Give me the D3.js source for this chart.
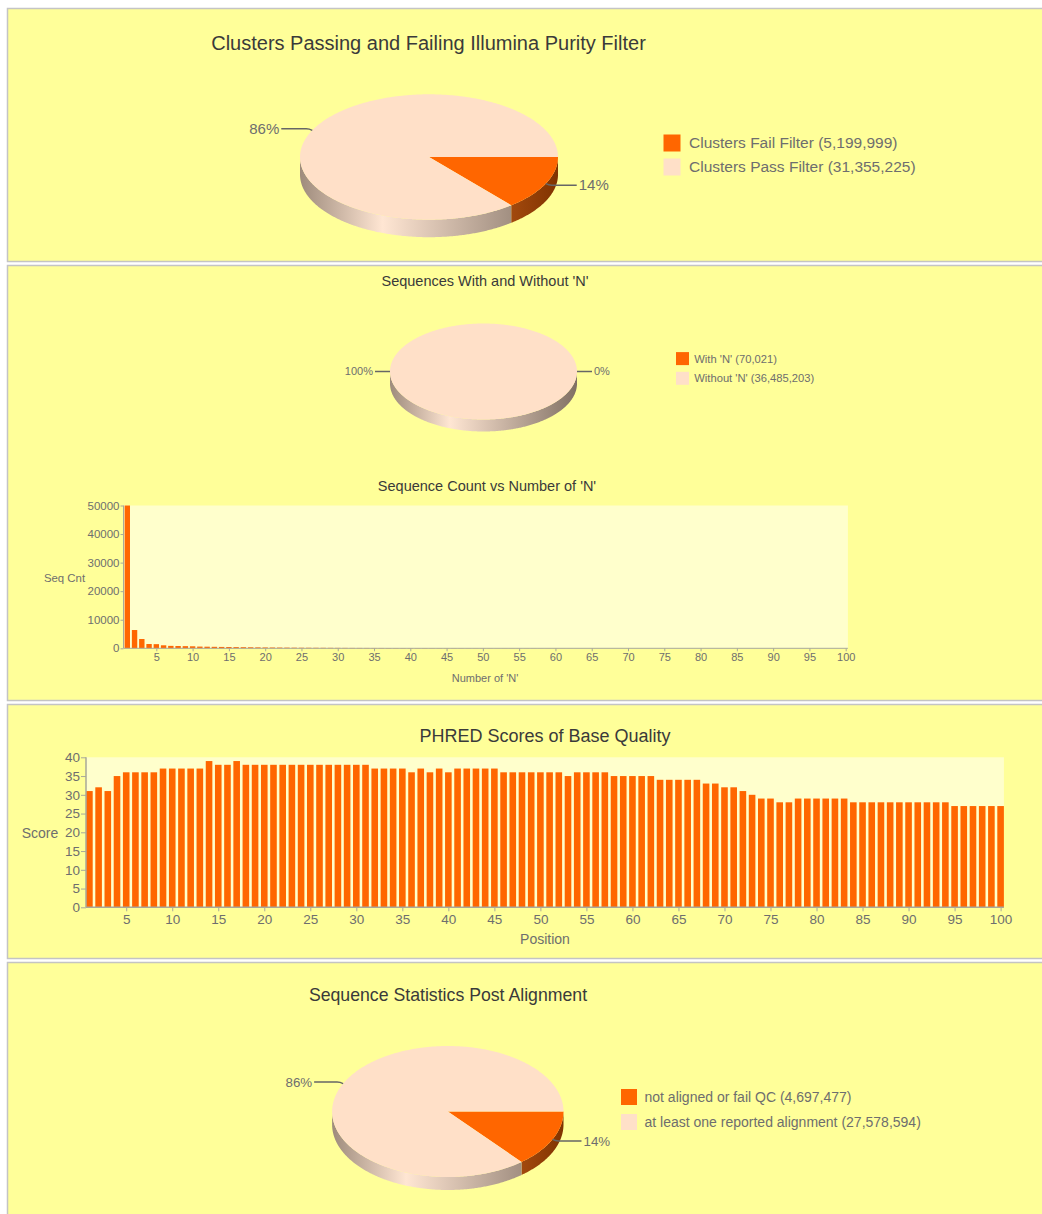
<!DOCTYPE html>
<html>
<head>
<meta charset="utf-8">
<title>Sequencing QC Summary</title>
<script src="https://cdn.jsdelivr.net/npm/d3@7"></script>
<style>
  body { margin: 0; background: #ffffff; }
  svg { display: block; font-family: "Liberation Sans", Arial, Helvetica, sans-serif; }
</style>
</head>
<body>
<svg id="report" width="1042" height="1214"></svg>
<script>
// ---------- data ----------
const purityLabels = ["Clusters Fail Filter", "Clusters Pass Filter"];
const purityCounts = [5199999, 31355225];
const purityPercents = [14, 86];

const nLabels = ["With 'N'", "Without 'N'"];
const nCounts = [70021, 36485203];
const nPercents = [0, 100];

const alignLabels = ["not aligned or fail QC", "at least one reported alignment"];
const alignCounts = [4697477, 27578594];
const alignPercents = [14, 86];

// sequence count by number of 'N' in the read (1..100)
const nCountByN = [
  50000, 6400, 3250, 1500, 1450, 1050, 850, 800, 750, 700,
  600, 560, 520, 480, 450, 420, 390, 360, 330, 300,
  280, 260, 240, 220, 200, 190, 180, 170, 160, 150,
  140, 130, 125, 120, 115, 110, 105, 100, 95, 90,
  85, 80, 75, 70, 65, 60, 55, 50, 48, 46,
  44, 42, 40, 38, 36, 34, 32, 30, 28, 26,
  20, 15, 10, 8, 6, 5, 4, 3, 2, 2,
  1, 1, 1, 0, 0, 0, 0, 0, 0, 0,
  0, 0, 0, 0, 0, 0, 0, 0, 0, 0,
  0, 0, 0, 0, 0, 0, 0, 0, 0, 0
];
const nHistXTicks = [5, 10, 15, 20, 25, 30, 35, 40, 45, 50, 55, 60, 65, 70, 75, 80, 85, 90, 95, 100];
const nHistYTicks = [0, 10000, 20000, 30000, 40000, 50000];

// mean PHRED score per read position (1..100)
const phredScores = [
  31, 32, 31, 35, 36, 36, 36, 36, 37, 37,
  37, 37, 37, 39, 38, 38, 39, 38, 38, 38,
  38, 38, 38, 38, 38, 38, 38, 38, 38, 38,
  38, 37, 37, 37, 37, 36, 37, 36, 37, 36,
  37, 37, 37, 37, 37, 36, 36, 36, 36, 36,
  36, 36, 35, 36, 36, 36, 36, 35, 35, 35,
  35, 35, 34, 34, 34, 34, 34, 33, 33, 32,
  32, 31, 30, 29, 29, 28, 28, 29, 29, 29,
  29, 29, 29, 28, 28, 28, 28, 28, 28, 28,
  28, 28, 28, 28, 27, 27, 27, 27, 27, 27
];
const phredXTicks = [5, 10, 15, 20, 25, 30, 35, 40, 45, 50, 55, 60, 65, 70, 75, 80, 85, 90, 95, 100];
const phredYTicks = [0, 5, 10, 15, 20, 25, 30, 35, 40];

// ---------- styling ----------
const PANEL_BG = "#ffff99";
const PANEL_BORDER = "#c4c4c4";
const PLOT_BG = "#ffffcc";
const BAR = "#ff6600";
const SLICE_COLORS = ["#ff6600", "#ffe0c8"];
const TITLE_COLOR = "#3a3a3a";
const TEXT_COLOR = "#6e6e6e";
const AXIS_COLOR = "#a8a89a";

const svg = d3.select("#report");
const fmt = d3.format(",");

// ---------- panels ----------
const panels = [
  { top: 8, height: 253 },
  { top: 265, height: 435 },
  { top: 704, height: 254 },
  { top: 962, height: 262 }
];
svg.selectAll("rect.panel").data(panels).join("rect")
  .attr("class", "panel")
  .attr("x", 7.5).attr("y", d => d.top + 0.5)
  .attr("width", 1040).attr("height", d => d.height)
  .attr("fill", PANEL_BG).attr("stroke", PANEL_BORDER).attr("stroke-width", 1.5);

function label(g, x, y, text, size, opts = {}) {
  return g.append("text")
    .attr("x", x).attr("y", y)
    .attr("dy", "0.35em")
    .attr("text-anchor", opts.anchor || "middle")
    .attr("font-size", size)
    .attr("fill", opts.color || TEXT_COLOR)
    .text(text);
}

// ---------- 3D pie ----------
function pie3d(g, cfg) {
  const { id, cx, cy, rx, ry, depth, values, labelSize, lead } = cfg;
  const arcs = d3.pie().sort(null)
    .startAngle(Math.PI / 2).endAngle(Math.PI / 2 + 2 * Math.PI)(values);
  const pt = (a, dy = 0) => [cx + rx * Math.sin(a), cy - ry * Math.cos(a) + dy];
  const sample = (a, b, dy) => {
    const n = Math.max(2, Math.ceil(Math.abs(b - a) / 0.01));
    return d3.range(n + 1).map(i => pt(a + (b - a) * i / n, dy));
  };
  const line = d3.line();

  const defs = g.append("defs");
  SLICE_COLORS.forEach((c, i) => {
    const grad = defs.append("linearGradient")
      .attr("id", `${id}-side-${i}`)
      .attr("gradientUnits", "userSpaceOnUse")
      .attr("x1", cx - rx).attr("x2", cx + rx).attr("y1", 0).attr("y2", 0);
    [[0, d3.interpolateRgb(c, "#000")(0.38)],
     [0.32, d3.interpolateRgb(c, "#fff")(0.2)],
     [1, d3.interpolateRgb(c, "#000")(0.5)]]
      .forEach(([o, col]) => grad.append("stop").attr("offset", o).attr("stop-color", col));
  });

  // visible rim (front half of the ellipse)
  arcs.forEach((a, i) => {
    const s = Math.max(a.startAngle, Math.PI / 2);
    const e = Math.min(a.endAngle, 3 * Math.PI / 2);
    if (e <= s) return;
    const pts = sample(s, e, 0).concat(sample(e, s, depth));
    g.append("path").attr("d", line(pts) + "Z").attr("fill", `url(#${id}-side-${i})`);
  });

  // top faces
  arcs.forEach((a, i) => {
    if (a.endAngle <= a.startAngle) return;
    const pts = [[cx, cy]].concat(sample(a.startAngle, a.endAngle, 0));
    g.append("path").attr("d", line(pts) + "Z").attr("fill", SLICE_COLORS[i]);
  });

  // percentage callouts
  arcs.forEach((a, i) => {
    const m = (a.startAngle + a.endAngle) / 2;
    const [px, py] = pt(m);
    const sx = Math.sin(m) >= 0 ? 1 : -1;
    const c = -Math.cos(m);
    const sy = Math.abs(c) < 0.1 ? 0 : (c > 0 ? 1 : -1);
    const ey = py + 1.5 * sy;
    g.append("path")
      .attr("d", `M${px},${py}Q${px + 3 * sx},${ey} ${px + 6 * sx},${ey}L${px + lead * sx},${ey}`)
      .attr("fill", "none").attr("stroke", "#666").attr("stroke-width", 1.5);
    label(g, px + (lead + 2) * sx, ey, `${values[i]}%`, labelSize,
      { anchor: sx > 0 ? "start" : "end", color: TEXT_COLOR });
  });
}

function legend(g, cfg) {
  const { x, y, step, box, gap, size, labels, counts } = cfg;
  labels.forEach((l, i) => {
    const yc = y + i * step;
    g.append("rect").attr("x", x).attr("y", yc - box / 2)
      .attr("width", box).attr("height", box).attr("fill", SLICE_COLORS[i]);
    label(g, x + box + gap, yc, `${l} (${fmt(counts[i])})`, size, { anchor: "start" });
  });
}

// ---------- panel 1: purity filter ----------
const g1 = svg.append("g");
label(g1, 428.5, 42.5, "Clusters Passing and Failing Illumina Purity Filter", 20, { color: TITLE_COLOR });
pie3d(g1, { id: "pf", cx: 429, cy: 157, rx: 129, ry: 62.7, depth: 17.5,
  values: purityPercents, labelSize: 15, lead: 31 });
legend(g1, { x: 663.5, y: 143, step: 24, box: 17, gap: 8.5, size: 15.5,
  labels: purityLabels, counts: purityCounts });

// ---------- panel 2: reads with 'N' ----------
const g2 = svg.append("g");
label(g2, 485, 281, "Sequences With and Without 'N'", 14.5, { color: TITLE_COLOR });
pie3d(g2, { id: "nn", cx: 483.5, cy: 371.5, rx: 93.5, ry: 48, depth: 12,
  values: nPercents, labelSize: 11, lead: 15 });
legend(g2, { x: 676, y: 358.6, step: 19.7, box: 13, gap: 5.3, size: 11.2,
  labels: nLabels, counts: nCounts });

// histogram of 'N' counts
label(g2, 487, 486, "Sequence Count vs Number of 'N'", 14.5, { color: TITLE_COLOR });
const hx = d3.scaleLinear().domain([1, 100]).range([127.3, 845.7]);
const hy = d3.scaleLinear().domain([0, 50000]).range([648.3, 505.5]);
const hBarW = 5.4;
const hLeft = hx(1) - 3.8, hRight = hx(100) + 2.2;
g2.append("rect").attr("x", hLeft).attr("y", hy(50000))
  .attr("width", hRight - hLeft).attr("height", hy(0) - hy(50000)).attr("fill", PLOT_BG);
g2.append("g").selectAll("rect").data(nCountByN).join("rect")
  .attr("x", (d, i) => hx(i + 1) - hBarW / 2)
  .attr("y", d => hy(d))
  .attr("width", hBarW)
  .attr("height", d => hy(0) - hy(d))
  .attr("fill", BAR);

function styleAxis(sel, size) {
  sel.select(".domain").remove();
  sel.selectAll(".tick line").attr("stroke", AXIS_COLOR);
  sel.selectAll(".tick text").attr("fill", TEXT_COLOR).attr("font-size", size)
    .attr("font-family", "'Liberation Sans', Arial, Helvetica, sans-serif");
}
g2.append("g").attr("transform", `translate(${hLeft},0)`)
  .call(d3.axisLeft(hy).tickValues(nHistYTicks).tickSize(3).tickPadding(1).tickFormat(d3.format("d")))
  .call(s => styleAxis(s, 11.5));
g2.append("g").attr("transform", `translate(0,${hy(0)})`)
  .call(d3.axisBottom(hx).tickValues(nHistXTicks).tickSize(3).tickPadding(2))
  .call(s => styleAxis(s, 11));
g2.append("line").attr("x1", hLeft).attr("x2", hLeft).attr("y1", hy(50000)).attr("y2", hy(0))
  .attr("stroke", AXIS_COLOR);
g2.append("line").attr("x1", hLeft).attr("x2", hRight).attr("y1", hy(0)).attr("y2", hy(0))
  .attr("stroke", AXIS_COLOR);
label(g2, 64.5, 578, "Seq Cnt", 11.4);
label(g2, 485, 678, "Number of 'N'", 11);

// ---------- panel 3: PHRED scores ----------
const g3 = svg.append("g");
label(g3, 545, 736, "PHRED Scores of Base Quality", 18, { color: TITLE_COLOR });
const px = d3.scaleLinear().domain([1, 100]).range([89.4, 1000.6]);
const py = d3.scaleLinear().domain([0, 40]).range([907.3, 757.3]);
const pBarW = 6.6;
const pLeft = px(1) - 3.4, pRight = px(100) + 3.3;
g3.append("rect").attr("x", pLeft).attr("y", py(40))
  .attr("width", pRight - pLeft).attr("height", py(0) - py(40)).attr("fill", PLOT_BG);
g3.append("g").selectAll("rect").data(phredScores).join("rect")
  .attr("x", (d, i) => px(i + 1) - pBarW / 2)
  .attr("y", d => py(d))
  .attr("width", pBarW)
  .attr("height", d => py(0) - py(d))
  .attr("fill", BAR);
g3.append("g").attr("transform", `translate(${pLeft},0)`)
  .call(d3.axisLeft(py).tickValues(phredYTicks).tickSize(5).tickPadding(1))
  .call(s => styleAxis(s, 13.5));
g3.append("g").attr("transform", `translate(0,${py(0)})`)
  .call(d3.axisBottom(px).tickValues(phredXTicks).tickSize(4).tickPadding(3))
  .call(s => styleAxis(s, 13.5));
g3.append("line").attr("x1", pLeft).attr("x2", pLeft).attr("y1", py(40)).attr("y2", py(0))
  .attr("stroke", AXIS_COLOR).attr("stroke-width", 1.5);
g3.append("line").attr("x1", pLeft).attr("x2", pRight).attr("y1", py(0)).attr("y2", py(0))
  .attr("stroke", AXIS_COLOR).attr("stroke-width", 1.5);
label(g3, 40, 833, "Score", 14);
label(g3, 545, 939, "Position", 14);

// ---------- panel 4: alignment ----------
const g4 = svg.append("g");
label(g4, 448, 995, "Sequence Statistics Post Alignment", 17.7, { color: TITLE_COLOR });
pie3d(g4, { id: "al", cx: 447.8, cy: 1111.5, rx: 115.7, ry: 65.5, depth: 13,
  values: alignPercents, labelSize: 13.3, lead: 29 });
legend(g4, { x: 621, y: 1097, step: 25, box: 16, gap: 7.5, size: 14,
  labels: alignLabels, counts: alignCounts });
</script>
</body>
</html>
